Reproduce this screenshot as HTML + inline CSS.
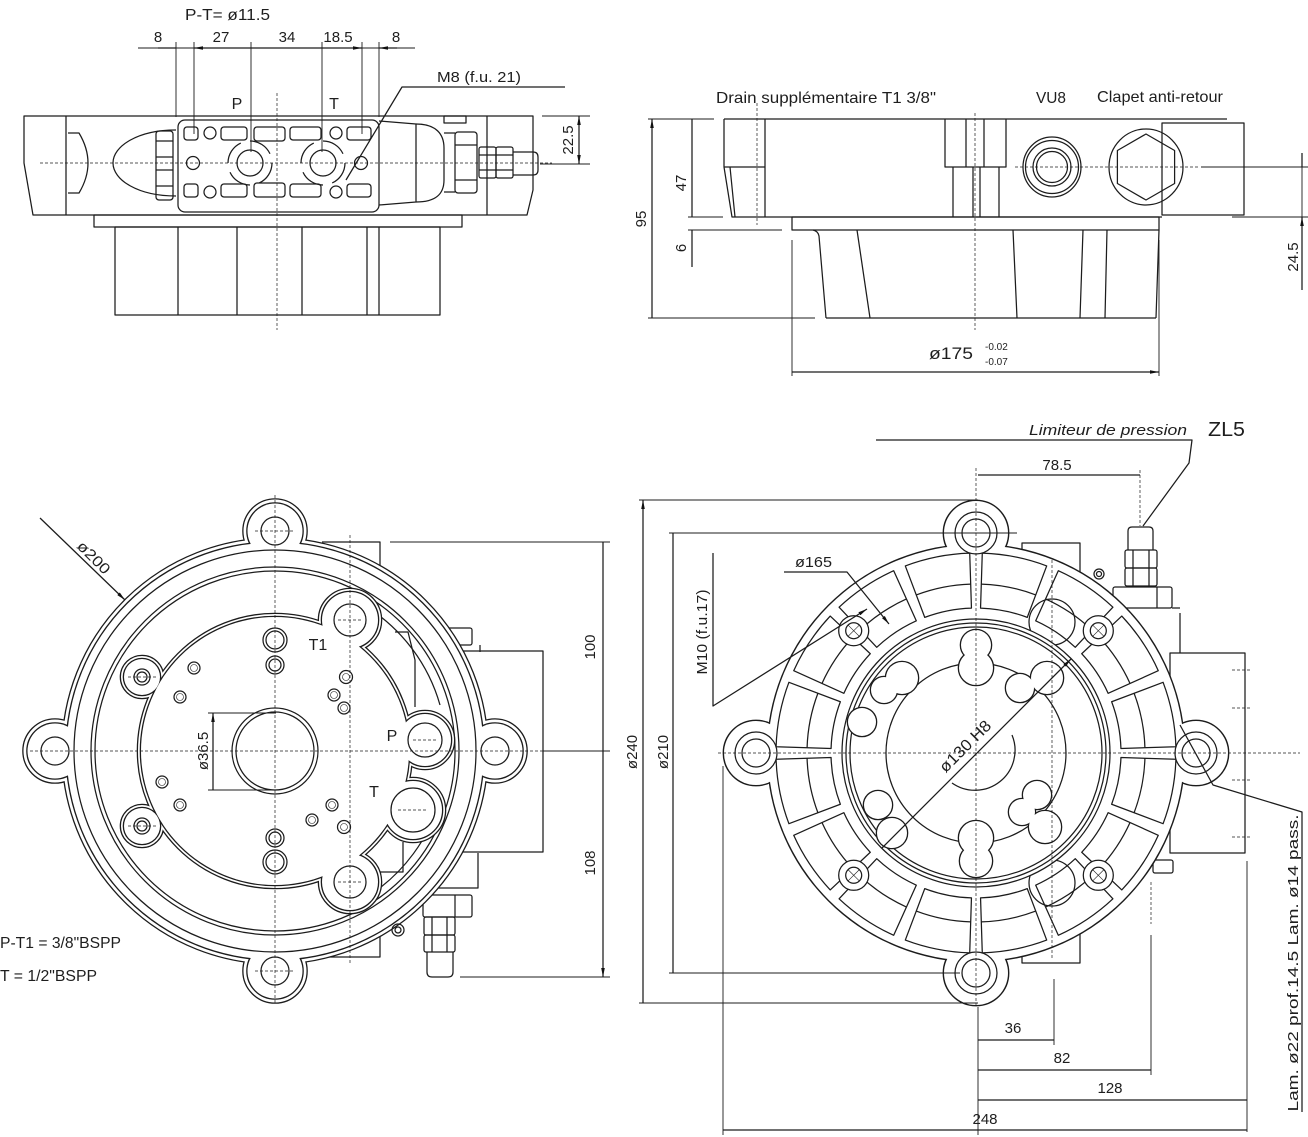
<!DOCTYPE html>
<html><head><meta charset="utf-8"><style>
html,body{margin:0;padding:0;background:#fff;}
svg{display:block}
text{font-family:"Liberation Sans",sans-serif;fill:#1e1e1e;stroke:none;}
</style></head><body>
<svg width="1308" height="1137" viewBox="0 0 1308 1137" xmlns="http://www.w3.org/2000/svg">
<defs>
<marker id="a" viewBox="0 0 10 4" refX="10" refY="2" markerWidth="9" markerHeight="3.6" markerUnits="userSpaceOnUse" orient="auto-start-reverse"><path d="M0,0L10,2L0,4z" fill="#111"/></marker>
<g id="blf"><circle cx="275" cy="751" r="208.5"/><circle cx="275" cy="531" r="27.5"/><circle cx="55" cy="751" r="27.5"/><circle cx="495" cy="751" r="27.5"/><circle cx="275" cy="971" r="27.5"/></g>
<g id="blp"><circle cx="275" cy="751" r="134"/><circle cx="142" cy="677" r="18"/><circle cx="142" cy="826" r="18"/><circle cx="350" cy="620" r="28"/><circle cx="350" cy="882" r="28"/><circle cx="425" cy="740" r="26"/><circle cx="413" cy="810" r="29"/></g>
<g id="brf"><circle cx="976" cy="753" r="208"/><circle cx="976" cy="533" r="32"/><circle cx="756" cy="753" r="32"/><circle cx="1196" cy="753" r="32"/><circle cx="976" cy="973" r="32"/></g>
<g id="brl"><circle cx="976" cy="645" r="15"/><circle cx="976" cy="668" r="17"/><circle cx="902" cy="678" r="16"/><circle cx="884" cy="690" r="13"/><circle cx="1047" cy="678" r="16"/><circle cx="1020" cy="688" r="14"/><circle cx="862" cy="722" r="14"/><circle cx="878" cy="805" r="14"/><circle cx="892" cy="833" r="15"/><circle cx="976" cy="838" r="17"/><circle cx="976" cy="861" r="16"/><circle cx="1045" cy="827" r="16"/><circle cx="1037" cy="795" r="14"/><circle cx="1022" cy="812" r="13"/></g>
</defs>
<g fill="none" stroke="#1c1c1c" stroke-width="1.25" stroke-linejoin="round">

<!-- ================= TOP LEFT ================= -->
<path d="M24,116H533V190L527,215H33L24,163Z"/>
<path d="M66,116V215M487,116V215"/>
<path d="M68,133H79Q97,163 79,193H68"/>
<path d="M176,130C138,130 113,146 113,163C113,180 138,196 176,196"/>
<rect x="156" y="131" width="17" height="69" rx="3"/>
<path d="M156,141H173M156,157H173M156,170H173M156,186H173"/>
<rect x="178" y="120" width="201" height="92" rx="7"/>
<rect x="184" y="127" width="14" height="13" rx="3"/><rect x="184" y="184" width="14" height="13" rx="3"/>
<rect x="221" y="127" width="26" height="13" rx="3"/><rect x="221" y="184" width="26" height="13" rx="3"/>
<rect x="254" y="127" width="31" height="14" rx="3"/><rect x="254" y="183" width="31" height="14" rx="3"/>
<rect x="290" y="127" width="31" height="13" rx="3"/><rect x="290" y="184" width="31" height="13" rx="3"/>
<rect x="347" y="127" width="24" height="13" rx="3"/><rect x="347" y="184" width="24" height="13" rx="3"/>
<circle cx="250" cy="163" r="13"/><circle cx="323" cy="163" r="13"/>
<circle cx="250" cy="163" r="22" stroke-dasharray="25 9.5"/><circle cx="323" cy="163" r="22" stroke-dasharray="25 9.5"/>
<circle cx="210" cy="133" r="6"/><circle cx="210" cy="192" r="6"/><circle cx="336" cy="133" r="6"/><circle cx="336" cy="192" r="6"/><circle cx="193" cy="163" r="6.5"/><circle cx="361" cy="163" r="6.5"/>
<path d="M379,121L416,124V202L379,205"/>
<path d="M416,124C436,124 444,134 444,148V180C444,194 436,202 416,202"/>
<path d="M444,133H455M444,192H455"/>
<rect x="455" y="132" width="22" height="61" rx="3"/>
<path d="M455,145H477M455,180H477"/>
<rect x="479" y="147" width="17" height="31" rx="2"/><rect x="496" y="147" width="17" height="31" rx="2"/>
<path d="M479,155H513M479,170H513"/>
<path d="M513,152H533Q538,152 538,157V170Q538,175 533,175H513"/>
<rect x="444" y="116" width="22" height="7"/>
<rect x="94" y="215" width="368" height="12"/>
<rect x="115" y="227" width="325" height="88"/>
<path d="M178,227V315M237,227V315M302,227V315M367,227V315M379,227V315"/>
<path d="M277,93V330M40,163H552" stroke-width="0.7" stroke-dasharray="3 2"/>
<!-- TL dims -->
<path d="M176,42V117M194,42V134M251,42V152M322,42V152M362,42V134M379,42V117" stroke-width="0.9"/>
<path d="M138,48H415" stroke-width="0.9"/>
<path d="M194,48H251M251,48H322M322,48H362" marker-start="url(#a)" marker-end="url(#a)"/>
<path d="M158,48H176M397,48H379" marker-end="url(#a)"/>
<path d="M565,87H402L346,180"/>
<path d="M542,116H590M540,164H590" stroke-width="0.9"/>
<path d="M579,116V164" marker-start="url(#a)" marker-end="url(#a)"/>

<!-- ================= TOP RIGHT ================= -->
<path d="M724,119H1227"/>
<path d="M724,119V167L732,217H1162"/>
<path d="M730,167L735,217M724,167H765M765,119V217"/>
<rect x="1162" y="123" width="82" height="92"/>
<path d="M945,119V167H1006V119M966,119V167M984,119V167M953,167V217M973,167V217M980,167V217M999,167V217"/>
<ellipse cx="1052" cy="167" rx="29" ry="30"/><circle cx="1052" cy="167" r="26.5"/><circle cx="1052" cy="167" r="19"/><circle cx="1052" cy="167" r="15.5"/>
<ellipse cx="1146" cy="167" rx="37" ry="38"/>
<path d="M1146,134L1174.6,150.5V183.5L1146,200L1117.4,183.5V150.5Z"/>
<rect x="792" y="217" width="367" height="13"/>
<path d="M813,230Q818,231 819,236L826,318M857,230L870,318M1013,230L1017,318M1083,230L1080,318M1107,230L1105,318M1159,230L1156,318M826,318H1156"/>
<path d="M757,103V225M975,113V330M1015,167H1200" stroke-width="0.7" stroke-dasharray="3 2"/>
<path d="M648,119H714M648,318H815M688,217H723M688,230H782M792,240V376M1159,240V376M1201,167H1308M1232,217H1308" stroke-width="0.9"/>
<path d="M652,119V318M692,119V217M792,372H1159" marker-start="url(#a)" marker-end="url(#a)"/>
<path d="M692,267V230M1302,153V167M1302,290V217" marker-end="url(#a)"/>
<path d="M1302,167V217" stroke-width="0.9"/>

<!-- ================= BOTTOM LEFT ================= -->
<path d="M322,542H380V570M322,957H380V930"/>
<rect x="463" y="651" width="80" height="201"/>
<rect x="447" y="628" width="25" height="17" rx="2"/>
<path d="M458,645V652M480,645V652M437,888H478V853"/>
<rect x="423" y="895" width="49" height="22" rx="2"/><path d="M455,895V917"/>
<rect x="424" y="917" width="31" height="18" rx="2"/><rect x="424" y="935" width="31" height="17" rx="2"/>
<path d="M432,917V952M447,917V952"/>
<path d="M427,952V972Q427,977 432,977H448Q453,977 453,972V952"/>
<use href="#blf" stroke="#1c1c1c" stroke-width="10.6" fill="none"/>
<use href="#blf" stroke="#fff" stroke-width="8" fill="none"/>
<use href="#blf" stroke="#1c1c1c" stroke-width="2.6" fill="none"/>
<use href="#blf" stroke="none" fill="#fff"/>
<circle cx="275" cy="751" r="201"/><circle cx="275" cy="751" r="184"/><circle cx="275" cy="751" r="180"/>
<path d="M367,607A172,172 0 0 1 440,705M440,800A172,172 0 0 1 370,895"/>
<path d="M395,632H408L415,660V707M372,872H403V842"/>
<circle cx="398" cy="930" r="6"/><circle cx="398" cy="930" r="3"/>
<use href="#blp" stroke="#1c1c1c" stroke-width="8.6" fill="none"/>
<use href="#blp" stroke="#fff" stroke-width="6" fill="none"/>
<use href="#blp" stroke="#1c1c1c" stroke-width="2.6" fill="none"/>
<use href="#blp" stroke="none" fill="#fff"/>
<circle cx="275" cy="531" r="14"/><circle cx="55" cy="751" r="14"/><circle cx="495" cy="751" r="14"/><circle cx="275" cy="971" r="14"/>
<circle cx="275" cy="751" r="43"/><circle cx="275" cy="751" r="39"/>
<circle cx="350" cy="620" r="16"/><circle cx="350" cy="882" r="16"/><circle cx="425" cy="740" r="17"/><circle cx="413" cy="810" r="22"/>
<circle cx="142" cy="677" r="8"/><circle cx="142" cy="677" r="5"/><circle cx="142" cy="826" r="8"/><circle cx="142" cy="826" r="5"/>
<circle cx="275" cy="640" r="12"/><circle cx="275" cy="640" r="9"/><circle cx="275" cy="665" r="9"/><circle cx="275" cy="665" r="6"/>
<circle cx="275" cy="838" r="9"/><circle cx="275" cy="838" r="6"/><circle cx="275" cy="862" r="12"/><circle cx="275" cy="862" r="9"/>
<g><circle cx="194" cy="668" r="6"/><circle cx="180" cy="697" r="6"/><circle cx="162" cy="782" r="6"/><circle cx="180" cy="805" r="6"/><circle cx="346" cy="677" r="6.5"/><circle cx="334" cy="695" r="6"/><circle cx="344" cy="708" r="6"/><circle cx="332" cy="805" r="6"/><circle cx="312" cy="820" r="6"/><circle cx="344" cy="827" r="6.5"/></g>
<g stroke-width="0.6"><circle cx="194" cy="668" r="3.5"/><circle cx="180" cy="697" r="3.5"/><circle cx="162" cy="782" r="3.5"/><circle cx="180" cy="805" r="3.5"/><circle cx="346" cy="677" r="3.5"/><circle cx="334" cy="695" r="3.5"/><circle cx="344" cy="708" r="3.5"/><circle cx="332" cy="805" r="3.5"/><circle cx="312" cy="820" r="3.5"/><circle cx="344" cy="827" r="3.5"/></g>
<path d="M30,751H570M275,495V1005M350,535V963M338,620H362M338,882H362M413,740H437M398,810H428M128,677H156M128,826H156M255,531H295M255,971H295M40,751H70M480,751H510" stroke-width="0.7" stroke-dasharray="3 2"/>
<!-- BL dims -->
<path d="M40,518L125,600" marker-end="url(#a)"/>
<path d="M208,713H276M208,790H276M390,542H610M543,751H610M460,977H610" stroke-width="0.9"/>
<path d="M213,713V790M603,542V751M603,751V977" marker-start="url(#a)" marker-end="url(#a)"/>

<!-- ================= BOTTOM RIGHT ================= -->
<rect x="1170" y="653" width="75" height="200"/>
<path d="M1232,670H1250M1232,708H1250M1232,780H1250M1232,837H1250" stroke-width="0.7" stroke-dasharray="3 2"/>
<path d="M1022,560V543H1080V610M1022,945V963H1080V900"/>
<path d="M1128,550V531Q1128,527 1132,527H1149Q1153,527 1153,531V550"/>
<rect x="1125" y="550" width="32" height="18" rx="2"/><rect x="1125" y="568" width="32" height="18" rx="2"/>
<path d="M1133,550V586M1149,550V586"/>
<rect x="1113" y="587" width="59" height="21" rx="2"/><path d="M1157,587V608"/>
<path d="M1123,608V640M1180,613V653M1172,608H1180"/>
<rect x="1153" y="860" width="20" height="13" rx="2"/>
<circle cx="1099" cy="574" r="5"/><circle cx="1099" cy="574" r="2.5"/>
<use href="#brf" stroke="#1c1c1c" stroke-width="2.8" fill="none"/>
<use href="#brf" stroke="none" fill="#fff"/>
<g transform="translate(976,753)">
 <g id="q">
  <path d="M144.93,4.55L199.90,6.28A200,200 0 0 1 187.09,70.69L135.64,51.25A145,145 0 0 0 144.93,4.55Z"/>
  <path d="M168.92,5.31A169,169 0 0 1 158.09,59.74"/>
  <path d="M132.15,59.67L182.28,82.30A200,200 0 0 1 145.79,136.91L105.70,99.26A145,145 0 0 0 132.15,59.67Z"/>
  <path d="M154.03,69.55A169,169 0 0 1 123.20,115.69"/>
  <path d="M99.26,105.70L136.91,145.79A200,200 0 0 1 82.30,182.28L59.67,132.15A145,145 0 0 0 99.26,105.70Z"/>
  <path d="M115.69,123.20A169,169 0 0 1 69.55,154.03"/>
  <path d="M51.25,135.64L70.69,187.09A200,200 0 0 1 6.28,199.90L4.55,144.93A145,145 0 0 0 51.25,135.64Z"/>
  <path d="M59.74,158.09A169,169 0 0 1 5.31,168.92"/>
  <circle cx="122.3" cy="122.3" r="15" fill="#fff"/>
  <circle cx="122.3" cy="122.3" r="8"/>
  <path d="M116.5,116.5L128.1,128.1M128.1,116.5L116.5,128.1" stroke-width="0.6"/>
 </g>
 <use href="#q" transform="rotate(90)"/>
 <use href="#q" transform="rotate(180)"/>
 <use href="#q" transform="rotate(270)"/>
</g>
<circle cx="1052" cy="622" r="23"/><circle cx="1052" cy="883" r="23"/>
<circle cx="976" cy="753" r="134" fill="#fff"/>
<circle cx="976" cy="753" r="130"/><circle cx="976" cy="753" r="126"/>
<circle cx="976" cy="753" r="90"/>
<use href="#brl" stroke="#1c1c1c" stroke-width="2.6" fill="none"/>
<use href="#brl" stroke="none" fill="#fff"/>
<path d="M1012,735A40,40 0 0 1 952,783"/>
<circle cx="976" cy="533" r="21"/><circle cx="976" cy="533" r="14"/>
<circle cx="756" cy="753" r="21"/><circle cx="756" cy="753" r="14"/>
<circle cx="1196" cy="753" r="21"/><circle cx="1196" cy="753" r="14"/>
<circle cx="976" cy="973" r="21"/><circle cx="976" cy="973" r="14"/>
<path d="M718,753H1300M976,468V1008M1052,560V960M1140,470V526M1151,882V924" stroke-width="0.7" stroke-dasharray="3 2"/>
<!-- BR dims -->
<path d="M639,500H978M639,1003H978M669,533H1017M669,973H960M978,1007V1135M1054,979V1045M1151,935V1075M1247,861V1132M723,766V1135" stroke-width="0.9"/>
<path d="M643,500V1003M673,533V973M978,475H1140M978,1040H1054M978,1070H1151M978,1100H1247M723,1130H1247M882,848L1071,659" marker-start="url(#a)" marker-end="url(#a)"/>
<path d="M876,440H1192L1189,463L1143,526"/>
<path d="M784,572H847L889,624" marker-end="url(#a)"/>
<path d="M713,553V706L867,609" marker-end="url(#a)"/>
<path d="M1180,725L1213,785L1302,812V1112"/>
</g>

<!-- ================= TEXT ================= -->
<text x="185" y="20" font-size="16" textLength="85" lengthAdjust="spacingAndGlyphs">P-T= ø11.5</text>
<g font-size="15" text-anchor="middle">
<text x="158" y="42">8</text><text x="221" y="42">27</text><text x="287" y="42">34</text><text x="338" y="42">18.5</text><text x="396" y="42">8</text>
</g>
<text x="237" y="109" font-size="16" text-anchor="middle">P</text>
<text x="334" y="109" font-size="16" text-anchor="middle">T</text>
<text x="437" y="82" font-size="15" textLength="84" lengthAdjust="spacingAndGlyphs">M8 (f.u. 21)</text>
<text transform="translate(573,140) rotate(-90)" font-size="15" text-anchor="middle">22.5</text>

<text x="716" y="103" font-size="16" textLength="220" lengthAdjust="spacingAndGlyphs">Drain supplémentaire T1 3/8&quot;</text>
<text x="1036" y="103" font-size="16" textLength="30" lengthAdjust="spacingAndGlyphs">VU8</text>
<text x="1097" y="102" font-size="16" textLength="126" lengthAdjust="spacingAndGlyphs">Clapet anti-retour</text>
<text transform="translate(646,219) rotate(-90)" font-size="15" text-anchor="middle">95</text>
<text transform="translate(686,183) rotate(-90)" font-size="15" text-anchor="middle">47</text>
<text transform="translate(686,248) rotate(-90)" font-size="15" text-anchor="middle">6</text>
<text x="929" y="359" font-size="17" textLength="44" lengthAdjust="spacingAndGlyphs">ø175</text>
<text x="985" y="350" font-size="10">-0.02</text>
<text x="985" y="365" font-size="10">-0.07</text>
<text transform="translate(1298,257) rotate(-90)" font-size="15" text-anchor="middle">24.5</text>

<text transform="translate(76,547) rotate(45)" font-size="15" textLength="40" lengthAdjust="spacingAndGlyphs">ø200</text>
<text transform="translate(208,751) rotate(-90)" font-size="15" text-anchor="middle">ø36.5</text>
<text x="318" y="650" font-size="16" text-anchor="middle">T1</text>
<text x="392" y="741" font-size="16" text-anchor="middle">P</text>
<text x="374" y="797" font-size="16" text-anchor="middle">T</text>
<text transform="translate(595,647) rotate(-90)" font-size="15" text-anchor="middle">100</text>
<text transform="translate(595,863) rotate(-90)" font-size="15" text-anchor="middle">108</text>
<text x="0" y="948" font-size="16" textLength="121" lengthAdjust="spacingAndGlyphs">P-T1 = 3/8&quot;BSPP</text>
<text x="0" y="981" font-size="16" textLength="97" lengthAdjust="spacingAndGlyphs">T = 1/2&quot;BSPP</text>

<text x="1029" y="435" font-size="15" font-style="italic" textLength="158" lengthAdjust="spacingAndGlyphs">Limiteur de pression</text>
<text x="1208" y="436" font-size="20" textLength="37" lengthAdjust="spacingAndGlyphs">ZL5</text>
<text x="1057" y="470" font-size="15" text-anchor="middle">78.5</text>
<text x="795" y="567" font-size="15" textLength="37" lengthAdjust="spacingAndGlyphs">ø165</text>
<text transform="translate(707,632) rotate(-90)" font-size="15" text-anchor="middle" textLength="85" lengthAdjust="spacingAndGlyphs">M10 (f.u.17)</text>
<text transform="translate(637,752) rotate(-90)" font-size="15" text-anchor="middle">ø240</text>
<text transform="translate(668,752) rotate(-90)" font-size="15" text-anchor="middle">ø210</text>
<text transform="translate(969,750) rotate(-45)" font-size="16" text-anchor="middle" textLength="66" lengthAdjust="spacingAndGlyphs">ø130 H8</text>
<text x="1013" y="1033" font-size="15" text-anchor="middle">36</text>
<text x="1062" y="1063" font-size="15" text-anchor="middle">82</text>
<text x="1110" y="1093" font-size="15" text-anchor="middle">128</text>
<text x="985" y="1124" font-size="15" text-anchor="middle">248</text>
<text transform="translate(1298,963) rotate(-90)" font-size="15" text-anchor="middle" textLength="297" lengthAdjust="spacingAndGlyphs">Lam. ø22 prof.14.5 Lam.  ø14 pass.</text>
</svg>
</body></html>
